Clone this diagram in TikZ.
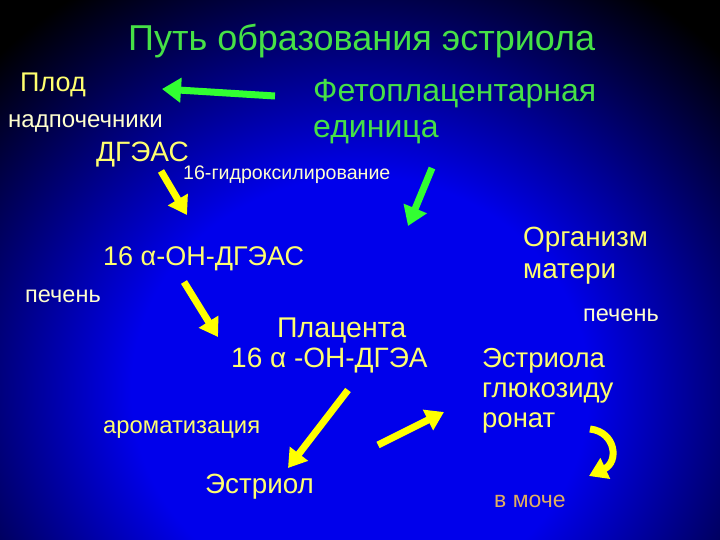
\documentclass[tikz,border=0pt]{standalone}
\usepackage{fontspec}
\setmainfont{Liberation Sans}
\usetikzlibrary{arrows.meta}
\definecolor{bgblue}{RGB}{0,0,235}
\definecolor{textyellow}{RGB}{255,255,110}
\definecolor{paleyellow}{RGB}{255,255,205}
\definecolor{titlegreen}{RGB}{70,225,70}
\definecolor{arrowgreen}{RGB}{50,255,50}
\definecolor{arrowyellow}{RGB}{255,255,0}
\definecolor{urinetan}{RGB}{225,175,95}
\pgfdeclareradialshading[bgblue]{slidebg}{\pgfpoint{0bp}{0bp}}{color(0bp)=(bgblue); color(13bp)=(bgblue); color(29bp)=(black); color(50bp)=(black)}
\tikzset{
  txt/.style={anchor=base west, inner sep=0pt, font=\fontsize{#1}{#1}\selectfont},
  yarrow/.style={arrowyellow, line width=7pt, -{Triangle[length=18pt,width=22pt]}},
  garrow/.style={arrowgreen, line width=7pt, -{Triangle[length=19pt,width=24pt]}}
}
\begin{document}
\begin{tikzpicture}[x=1pt,y=-1pt]
  \useasboundingbox (0,0) rectangle (720,540);
  \begin{scope}
    \clip (0,0) rectangle (720,540);
    \shade[shading=slidebg] (-80,-20) rectangle (800,800);
  \end{scope}
  % texts
  \node[txt=36, titlegreen] (title) at (128,51) {Путь образования эстриола};
  \node[txt=27, textyellow] (fetus) at (20,92) {Плод};
  \node[txt=32, titlegreen] (fpu1) at (313,102) {Фетоплацентарная};
  \node[txt=32, titlegreen] (fpu2) at (313,138) {единица};
  \node[txt=24, paleyellow] (adrenal) at (8,128) {надпочечники};
  \node[txt=28, textyellow] (dheas) at (96,162) {ДГЭАС};
  \node[txt=19.6, paleyellow] (hydrox) at (183,180) {16-гидроксилирование};
  \node[txt=27, textyellow] (ohdheas) at (103,265) {16 α-ОН-ДГЭАС};
  \node[txt=23.5, paleyellow] (liverL) at (25,302) {печень};
  \node[txt=28.5, textyellow] (placenta) at (277,337) {Плацента};
  \node[txt=28, textyellow] (ohdhea) at (231,367) {16 α -ОН-ДГЭА};
  \node[txt=23.8, textyellow] (arom) at (103,433) {ароматизация};
  \node[txt=27.8, textyellow] (estriol) at (205,493) {Эстриол};
  \node[txt=27.8, textyellow] (mother1) at (523,247) {Организм};
  \node[txt=27.8, textyellow] (mother2) at (523,278) {матери};
  \node[txt=23.5, paleyellow] (liverR) at (583,321) {печень};
  \node[txt=27.5, textyellow] (gluc1) at (482,367) {Эстриола};
  \node[txt=27.5, textyellow] (gluc2) at (482,397) {глюкозиду};
  \node[txt=27.5, textyellow] (gluc3) at (482,427) {ронат};
  \node[txt=23, urinetan] (urine) at (494,507) {в моче};
  % arrow ends
  \coordinate (fpuTail) at (275,96);
  \coordinate (fetusTip) at (162,89);
  \coordinate (dheasTail) at (161,171);
  \coordinate (dheasTip) at (187,215);
  \coordinate (fpuDownTail) at (432,168);
  \coordinate (motherTip) at (408,226);
  \coordinate (ohTail) at (184,282);
  \coordinate (placTip) at (218,337);
  \coordinate (placTail) at (348,390);
  \coordinate (estriolTip) at (288,468);
  \coordinate (estriolTail) at (378,445);
  \coordinate (glucTip) at (444,412);
  \coordinate (urineTail) at (590,429);
  \coordinate (urineTip) at (589,476);
  % arrows
  \draw[garrow] (fpuTail) -- (fetusTip);
  \draw[garrow] (fpuDownTail) -- (motherTip);
  \draw[yarrow] (dheasTail) -- (dheasTip);
  \draw[yarrow] (ohTail) -- (placTip);
  \draw[yarrow] (placTail) -- (estriolTip);
  \draw[yarrow] (estriolTail) -- (glucTip);
  \draw[yarrow] (urineTail) .. controls (616,432) and (619,462) .. (urineTip);
\end{tikzpicture}
\end{document}
